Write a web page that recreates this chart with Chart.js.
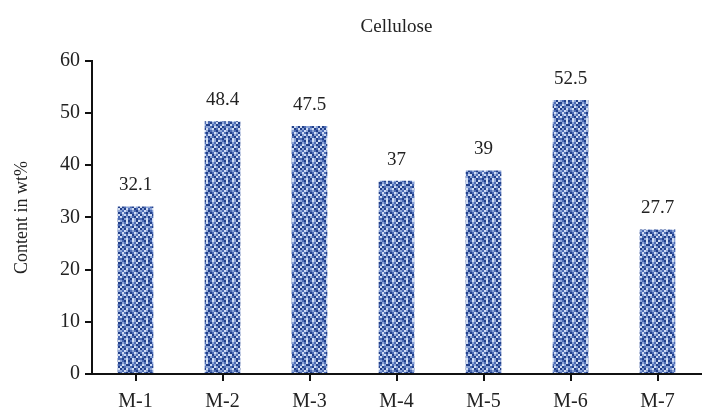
<!DOCTYPE html>
<html>
<head>
<meta charset="utf-8">
<script src="https://cdn.jsdelivr.net/npm/chart.js@4"></script>
<style>
  html, body { margin: 0; padding: 0; background: #fff; }
  #wrap { width: 703px; height: 407px; position: relative; }
</style>
</head>
<body>
<div id="wrap"><canvas id="chart"></canvas></div>
<script>
const categories = ['M-1', 'M-2', 'M-3', 'M-4', 'M-5', 'M-6', 'M-7'];
const cellulose = [32.1, 48.4, 47.5, 37, 39, 52.5, 27.7];
const valueLabels = ['32.1', '48.4', '47.5', '37', '39', '52.5', '27.7'];

const serif = '"Liberation Serif", "DejaVu Serif", serif';

// woven blue texture for the bars (fixed pattern, not data)
function makeWeave() {
    const weave = [
        '2103013203',
        '0213102130',
        '1320031201',
        '3012210320',
        '0203123013',
        '2132012102',
        '1310201320',
        '0231330213',
        '3102021031',
        '1023103201'
    ];
    const shades = ['#22408a', '#4c6cb6', '#8ba3d6', '#d0dcf2'];
    const cell = 2;
    const n = weave.length;
    const c = document.createElement('canvas');
    c.width = n * cell; c.height = n * cell;
    const g = c.getContext('2d');
    for (let y = 0; y < n; y++) {
        for (let x = 0; x < n; x++) {
            g.fillStyle = shades[+weave[y][x]];
            g.fillRect(x * cell, y * cell, cell, cell);
        }
    }
    return document.getElementById('chart').getContext('2d').createPattern(c, 'repeat');
}

// value labels over the bars + tick marks under each category
const barLabels = {
    id: 'barLabels',
    afterDraw(chart) {
        const ctx = chart.ctx;
        const meta = chart.getDatasetMeta(0);
        ctx.save();
        ctx.font = '19px ' + serif;
        ctx.fillStyle = '#222';
        ctx.textAlign = 'center';
        ctx.textBaseline = 'alphabetic';
        meta.data.forEach((bar, i) => {
            ctx.fillText(valueLabels[i], bar.x, bar.y - 16);
        });
        const base = chart.chartArea.bottom;
        ctx.fillStyle = '#111';
        meta.data.forEach((bar) => {
            ctx.fillRect(Math.round(bar.x) - 1, base, 2, 7);
        });
        ctx.restore();
    }
};

new Chart(document.getElementById('chart'), {
    type: 'bar',
    data: {
        labels: categories,
        datasets: [{
            label: 'Cellulose',
            data: cellulose,
            backgroundColor: makeWeave(),
            borderWidth: 0,
            barPercentage: 0.41,
            categoryPercentage: 1
        }]
    },
    options: {
        responsive: true,
        maintainAspectRatio: false,
        animation: false,
        layout: { padding: { left: 0, right: 2, bottom: 0 } },
        plugins: {
            legend: { display: false },
            tooltip: { enabled: false },
            title: {
                display: true,
                fullSize: false,
                text: 'Cellulose',
                color: '#222',
                font: { family: serif, size: 19, weight: 'normal' },
                padding: { top: 16, bottom: 22 }
            }
        },
        scales: {
            x: {
                grid: { display: false },
                border: { color: '#111', width: 2 },
                ticks: { color: '#222', font: { family: serif, size: 20 }, padding: 8 },
                afterFit(scale) { scale.height = 33; }
            },
            y: {
                min: 0,
                max: 60,
                grid: { drawOnChartArea: false, drawTicks: true, tickLength: 7, color: '#111', lineWidth: 2 },
                border: { color: '#111', width: 2 },
                ticks: { stepSize: 10, color: '#222', font: { family: serif, size: 20 }, padding: 5 },
                title: {
                    display: true,
                    text: 'Content in wt%',
                    color: '#222',
                    font: { family: serif, size: 18 },
                    padding: { top: 11, bottom: 8 }
                },
                afterFit(scale) { scale.width = 92; }
            }
        }
    },
    plugins: [barLabels]
});
</script>
</body>
</html>
